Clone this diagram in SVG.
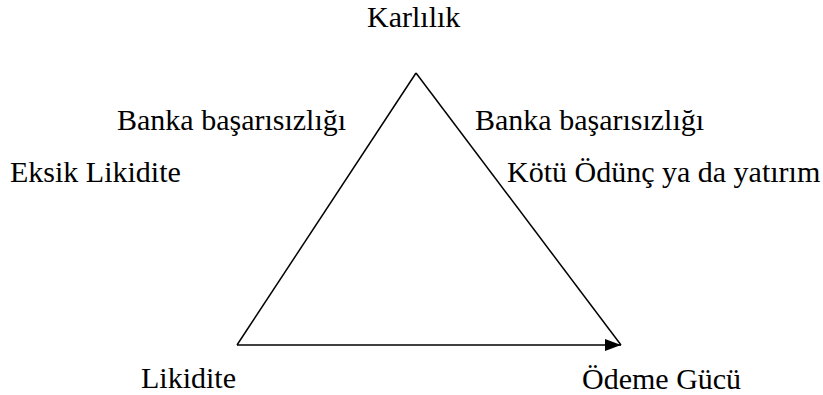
<svg xmlns="http://www.w3.org/2000/svg" width="823" height="395" viewBox="0 0 823 395">
<style>
.t{font-family:'Liberation Serif','Times New Roman',serif;font-size:30px;fill:#000}
.ln{stroke:#000;stroke-width:1.5;fill:none}
</style>
<defs>
<marker id="ah" markerWidth="16" markerHeight="12" refX="16" refY="6" orient="auto" markerUnits="userSpaceOnUse">
<path d="M0,0 L16,6 L0,12 Z" fill="#000"/>
</marker>
</defs>
<rect width="823" height="395" fill="#fff"/>
<g id="connectors">
<line class="ln" x1="237" y1="345" x2="416" y2="73"/>
<line class="ln" x1="416" y1="73" x2="621" y2="345"/>
<line class="ln" x1="237" y1="345" x2="621" y2="345" marker-end="url(#ah)"/>
</g>
<g id="karlilik"><text class="t" x="367" y="27">Karlılık</text></g>
<g id="likidite"><text class="t" x="141" y="388">Likidite</text></g>
<g id="odeme"><text class="t" x="582" y="389">Ödeme Gücü</text></g>
<g id="labels">
<text class="t" x="117" y="130">Banka başarısızlığı</text>
<text class="t" x="10" y="182">Eksik Likidite</text>
<text class="t" x="475" y="130">Banka başarısızlığı</text>
<text class="t" x="507" y="182">Kötü Ödünç ya da yatırım</text>
</g>
</svg>
